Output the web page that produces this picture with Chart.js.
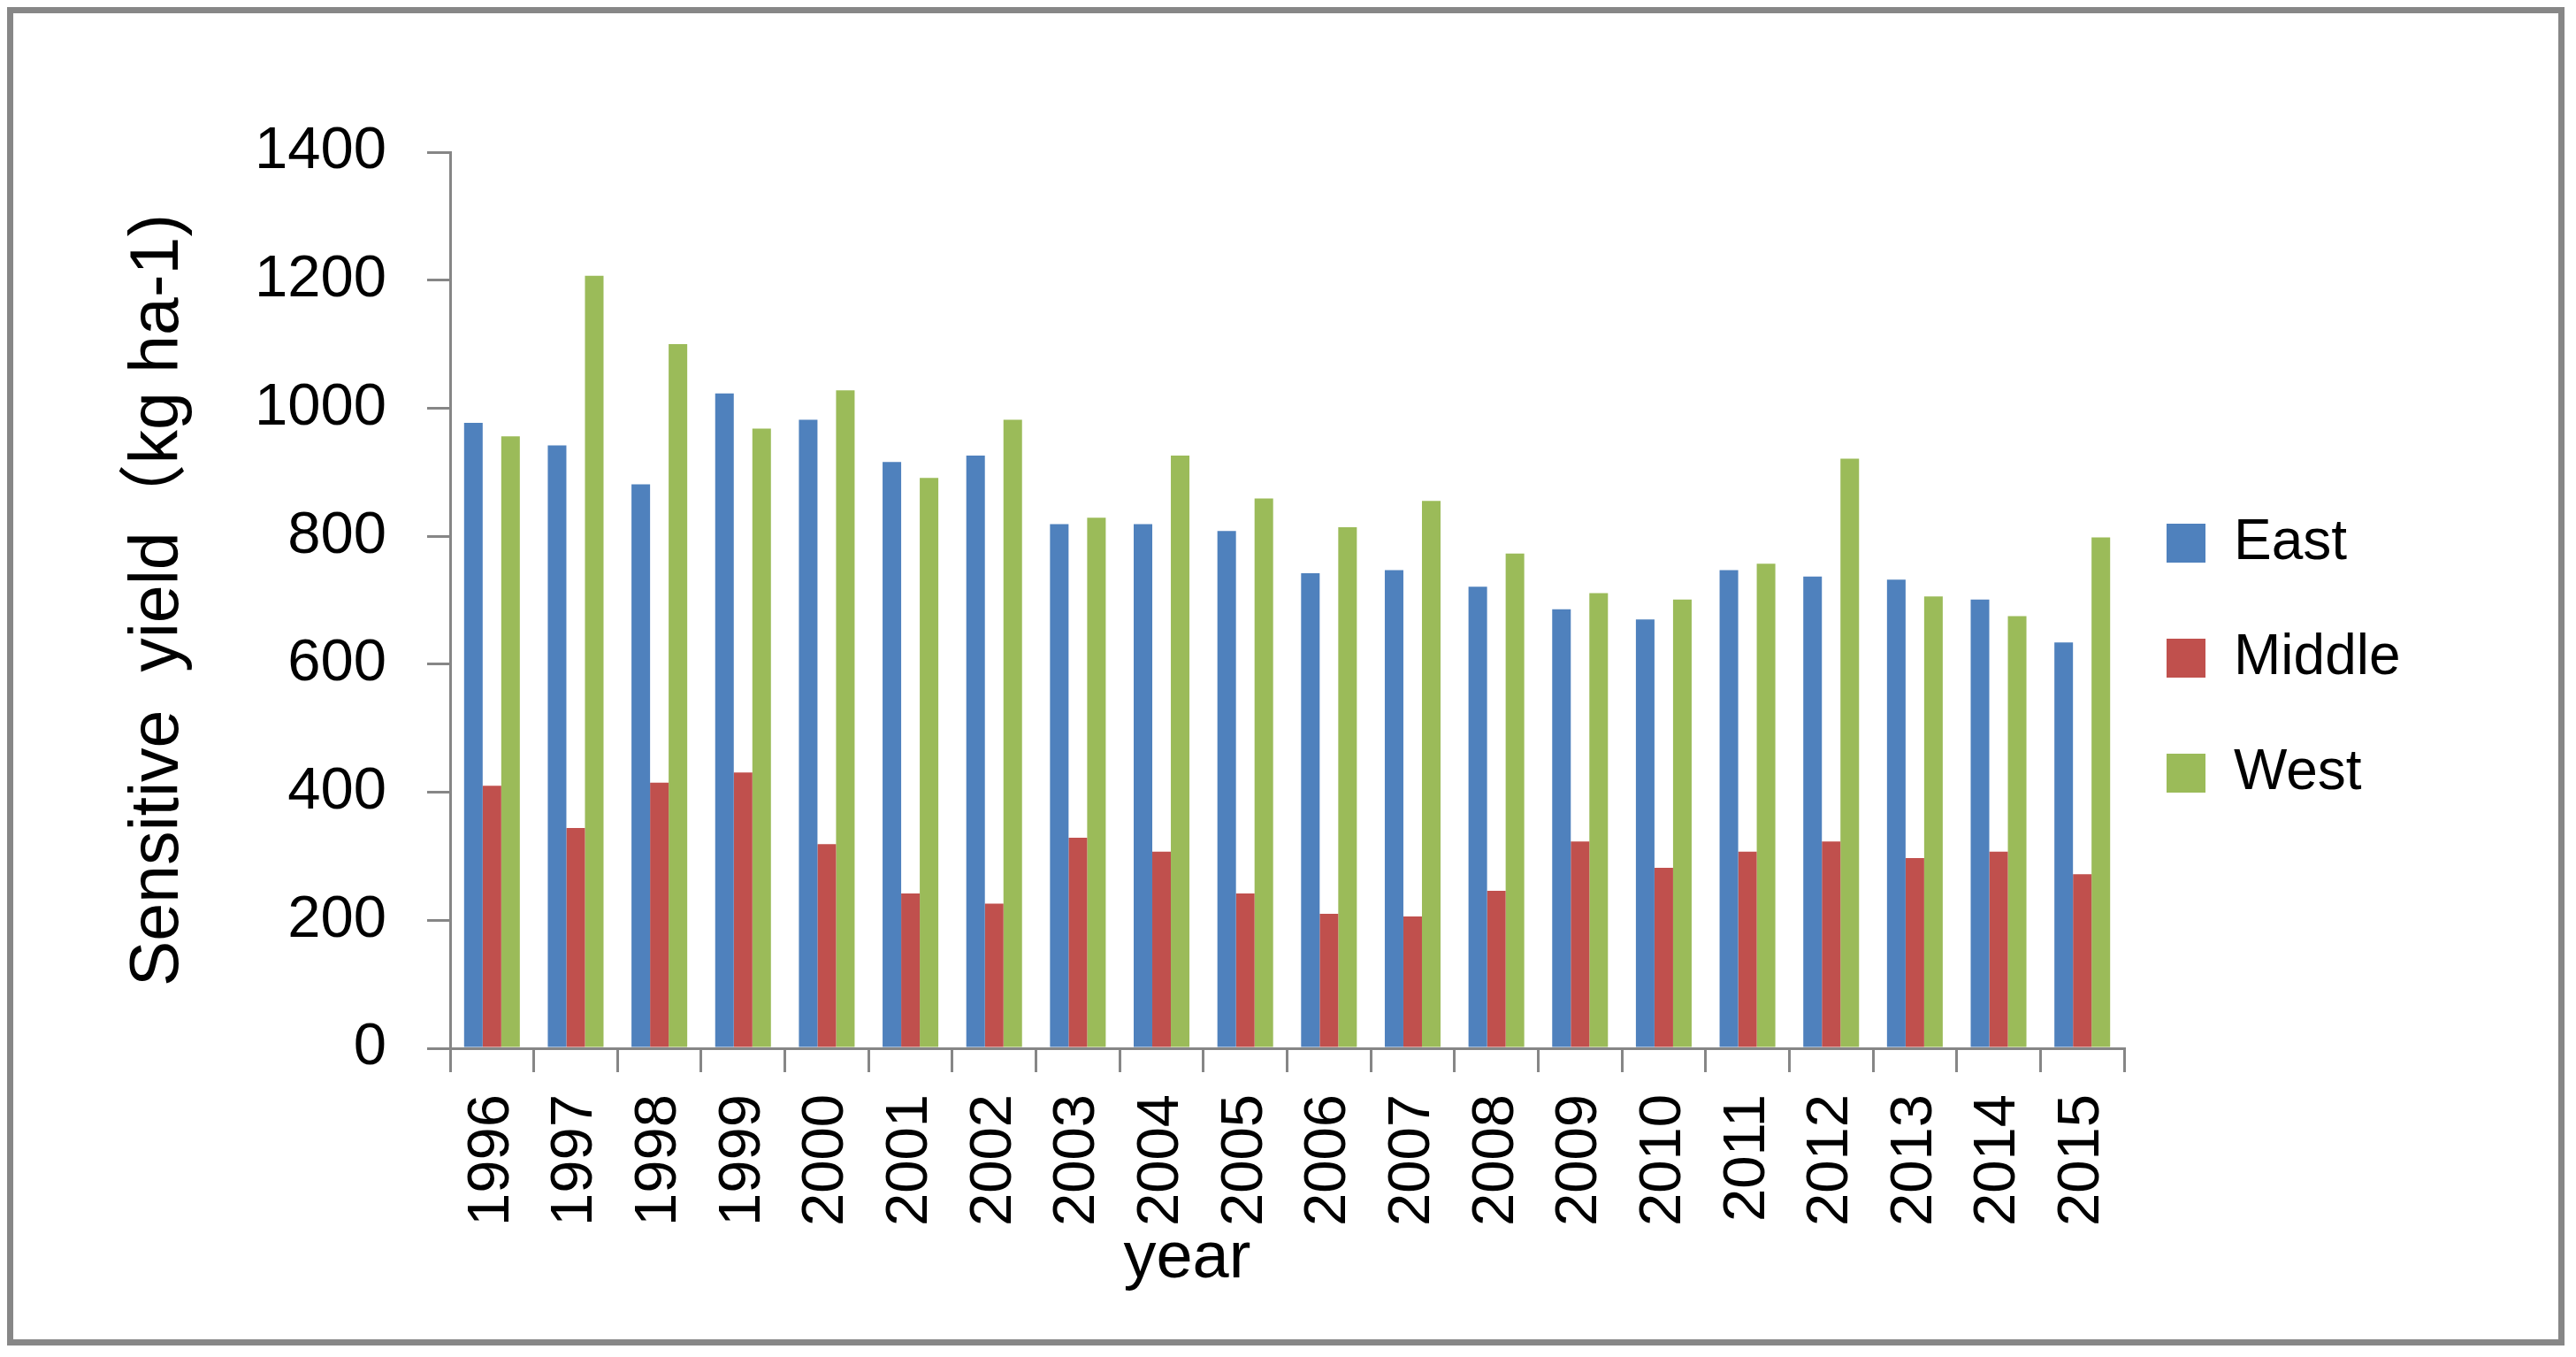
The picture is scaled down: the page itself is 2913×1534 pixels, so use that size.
<!DOCTYPE html>
<html>
<head>
<meta charset="utf-8">
<script src="https://cdn.jsdelivr.net/npm/chart.js@4.4.1/dist/chart.umd.min.js"></script>
<style>
  html, body { margin: 0; padding: 0; background: #ffffff; overflow: hidden; }
  #wrap { position: absolute; left: 0; top: 0; width: 2913px; height: 1534px; }
  #frame { position: absolute; left: 8px; top: 8px; width: 2892px; height: 1513px;
           border: 7px solid #878787; box-sizing: border-box; pointer-events: none; }
  canvas { position: absolute; left: 0; top: 0; }
</style>
</head>
<body>
<div id="wrap">
  <canvas id="c" width="2913" height="1534"></canvas>
  <div id="frame"></div>
</div>
<script>
const years = ['1996','1997','1998','1999','2000','2001','2002','2003','2004','2005',
               '2006','2007','2008','2009','2010','2011','2012','2013','2014','2015'];
const east   = [977, 942, 881, 1023, 982, 916, 926, 819, 819, 808, 742, 747, 721, 686, 670, 747, 737, 732, 701, 634];
const middle = [410, 344, 415, 431, 319, 242, 226, 329, 307, 242, 210, 206, 246, 323, 282, 307, 323, 297, 307, 272];
const west   = [956, 1207, 1100, 968, 1028, 891, 982, 829, 926, 859, 814, 855, 773, 711, 701, 757, 921, 706, 675, 798];
const seriesNames = ['East', 'Middle', 'West'];
const yTicks = [0, 200, 400, 600, 800, 1000, 1200, 1400];
const yTitle = 'Sensitive  yield\uFF08kg ha-1)';
const xTitle = 'year';

const FONT = "'Liberation Sans', Arial, 'Noto Sans CJK SC', sans-serif";
const AXIS = '#868686';

const legendPlacer = {
  id: 'legendPlacer',
  afterLayout(chart) {
    const lg = chart.legend;
    if (!lg) return;
    lg.left = 2384; lg.right = 2913; lg.width = 2913 - 2384;
    lg.top = 516; lg.bottom = 1534; lg.height = 1534 - 516;
  }
};

new Chart(document.getElementById('c'), {
  type: 'bar',
  data: {
    labels: years,
    datasets: [
      { label: seriesNames[0], data: east,   backgroundColor: '#4F81BD' },
      { label: seriesNames[1], data: middle, backgroundColor: '#C0504D' },
      { label: seriesNames[2], data: west,   backgroundColor: '#9BBB59' }
    ]
  },
  plugins: [legendPlacer],
  options: {
    responsive: false,
    animation: false,
    devicePixelRatio: 1,
    categoryPercentage: 0.666,
    barPercentage: 1.0,
    layout: { padding: { left: 0, top: 172, right: 511, bottom: 0 } },
    plugins: {
      tooltip: { enabled: false },
      legend: {
        position: 'chartArea',
        align: 'start',
        labels: {
          boxWidth: 44, boxHeight: 44, padding: 66,
          color: '#000000',
          font: { family: FONT, size: 64 }
        }
      }
    },
    scales: {
      x: {
        afterFit(scale) { scale.height = 349; },
        grid: { display: true, offset: true, drawOnChartArea: false, drawTicks: true,
                tickLength: 27, color: AXIS, lineWidth: 3 },
        border: { display: true, color: AXIS, width: 3 },
        ticks: { autoSkip: false, minRotation: 90, maxRotation: 90, padding: 25,
                 color: '#000000', font: { family: FONT, size: 67 } },
        title: { display: true, text: xTitle + '\u00A0'.repeat(11), color: '#000000',
                 font: { family: FONT, size: 74 }, padding: { top: 0, bottom: 66 } }
      },
      y: {
        min: 0, max: 1400,
        afterFit(scale) { scale.width = 509; },
        afterBuildTicks(scale) { scale.ticks = yTicks.map(v => ({ value: v })); },
        grid: { display: true, drawOnChartArea: false, drawTicks: true,
                tickLength: 26, color: AXIS, lineWidth: 3 },
        border: { display: true, color: AXIS, width: 3 },
        ticks: { padding: 46, color: '#000000', font: { family: FONT, size: 67 },
                 callback: (v) => String(v) },
        title: { display: true, text: yTitle, color: '#000000',
                 font: { family: FONT, size: 77 }, padding: { top: 134, bottom: 0 } }
      }
    }
  }
});
</script>
</body>
</html>
